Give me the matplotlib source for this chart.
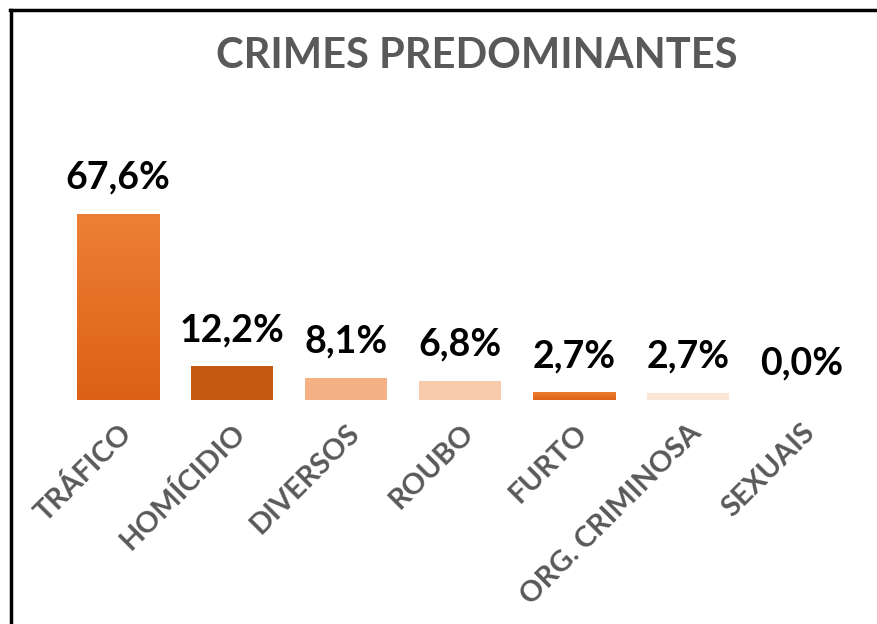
import numpy as np
import matplotlib.pyplot as plt
from matplotlib.lines import Line2D
from matplotlib.colors import LinearSegmentedColormap

categorias = ['TRÁFICO', 'HOMÍCIDIO', 'DIVERSOS', 'ROUBO', 'FURTO',
              'ORG. CRIMINOSA', 'SEXUAIS']
percentuais = [67.6, 12.2, 8.1, 6.8, 2.7, 2.7, 0.0]
rotulos = ['67,6%', '12,2%', '8,1%', '6,8%', '2,7%', '2,7%', '0,0%']

cores_topo = ['#ED7F35', '#C55A11', '#F4B183', '#F8CBAD', '#ED7D31', '#FBE5D6', '#ED7D31']
cores_base = ['#DC6116', '#C55A11', '#F4B183', '#F8CBAD', '#DD6418', '#FBE5D6', '#ED7D31']

plt.rcParams['font.family'] = ['Lato', 'DejaVu Sans']

fig = plt.figure(figsize=(8.77, 6.24), dpi=100)
ax = fig.add_axes([61 / 877, 224 / 624, 798 / 877, 220 / 624])

x = np.arange(len(categorias))
largura = 0.72
barras = ax.bar(x, percentuais, width=largura, color=cores_topo, zorder=2)

# degradê vertical nas barras
for b, c1, c2 in zip(barras, cores_topo, cores_base):
    if c1 == c2 or b.get_height() == 0:
        continue
    grad = np.linspace(0, 1, 100).reshape(-1, 1)
    cmap = LinearSegmentedColormap.from_list('g', [c2, c1])
    x0 = b.get_x()
    ax.imshow(grad, cmap=cmap, origin='lower', aspect='auto',
              extent=[x0, x0 + b.get_width(), 0, b.get_height()], zorder=3)

ax.set_xlim(-0.5, len(categorias) - 0.5)
ax.set_ylim(0, 80)

for xi, v, r in zip(x, percentuais, rotulos):
    ax.annotate(r, (xi, v), xytext=(0, 14), textcoords='offset points',
                ha='center', va='bottom', fontsize=27, fontweight='bold',
                color='black')

ax.set_xticks(x)
ax.set_xticklabels(categorias, rotation=45, ha='right', rotation_mode='anchor',
                   fontsize=21, fontweight='bold', color='#595959')
ax.tick_params(axis='x', length=0, pad=14)
ax.set_yticks([])
for s in ax.spines.values():
    s.set_visible(False)

fig.text(477 / 877, 1 - 56 / 624, 'CRIMES PREDOMINANTES', ha='center', va='center',
         fontsize=30, fontweight='bold', color='#595959')

# moldura
fig.add_artist(Line2D([10 / 877, 1], [1 - 10 / 624, 1 - 10 / 624], color='black', lw=2.5))
fig.add_artist(Line2D([11 / 877, 11 / 877], [0, 1 - 10 / 624], color='black', lw=2.5))

fig.savefig('out.png', dpi=100)
